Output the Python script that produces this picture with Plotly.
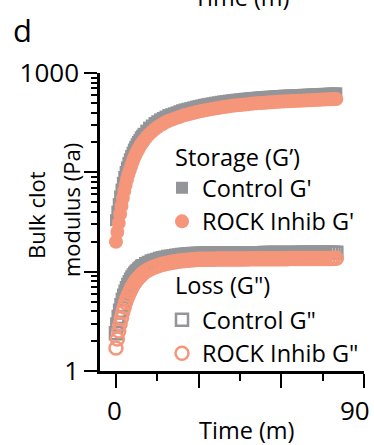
import plotly.graph_objects as go

# Sampling times (minutes)
time_min = [0, 0.5, 1, 1.5, 2, 2.5, 3, 3.5, 4, 4.5, 5, 5.5, 6, 6.5, 7, 7.5, 8, 8.5, 9, 9.5, 10,
            11, 12, 13, 14, 15, 16, 17, 18, 19, 20, 21, 22, 23, 24, 25, 26, 27, 28, 29, 30,
            31, 32, 33, 34, 35, 36, 37, 38, 39, 40, 41, 42, 43, 44, 45, 46, 47, 48, 49, 50,
            51, 52, 53, 54, 55, 56, 57, 58, 59, 60, 61, 62, 63, 64, 65, 66, 67, 68, 69, 70,
            71, 72, 73, 74, 75, 76, 77, 78, 79, 80]

# Storage modulus G' (Pa)
control_storage = [33.0, 40.2, 47.9, 57.2, 67.0, 78.4, 89.7, 100.8, 111.9, 123.8, 135.3, 146.0, 157.9,
                   169.7, 180.6, 191.9, 201.8, 212.0, 224.7, 233.4, 244.4,
                   262.7, 281.7, 296.1, 313.8, 327.2, 341.2, 353.0, 364.6, 377.4, 384.4,
                   393, 402, 412, 422, 430, 437, 443, 451, 459, 465,
                   472, 479, 485, 490, 496, 502, 507, 513, 518, 522,
                   527, 532, 536, 539, 543, 547, 551, 554, 559, 561,
                   564, 568, 570, 572, 576, 578, 580, 584, 586, 588,
                   591, 592, 594, 595, 597, 599, 601, 603, 604, 606,
                   608, 610, 612, 613, 616, 617, 619, 621, 622, 625]
rock_storage = [20.0, 25.1, 30.9, 38.1, 45.9, 55.2, 65.0, 74.7, 84.8, 95.2, 105.7, 115.9, 127.3,
                138.0, 148.0, 158.6, 168.2, 178.2, 188.8, 197.8, 207.1,
                224.5, 240.8, 255.3, 270.5, 283.3, 296.7, 307.0, 318.4, 329.6, 337.2,
                345, 353, 361, 370, 377, 383, 389, 396, 403, 408,
                414, 420, 425, 430, 435, 440, 445, 450, 454, 458,
                462, 467, 470, 473, 476, 480, 483, 486, 490, 492,
                495, 498, 500, 502, 505, 507, 509, 512, 514, 516,
                518, 519, 521, 522, 524, 525, 527, 529, 530, 532,
                533, 535, 537, 538, 540, 541, 543, 545, 546, 548]

# Loss modulus G'' (Pa)
control_loss = [2.40, 2.94, 3.49, 4.04, 4.58, 5.19, 5.73, 6.27, 6.82, 7.35, 7.81, 8.31, 8.73,
                9.17, 9.53, 9.90, 10.16, 10.52, 10.81, 11.19, 11.35,
                11.89, 12.20, 12.63, 12.88, 13.12, 13.43, 13.65, 13.81, 14.01, 14.11,
                14.27, 14.44, 14.58, 14.68, 14.79, 14.89, 14.96, 15.03, 15.09, 15.16,
                15.17, 15.19, 15.20, 15.21, 15.22, 15.23, 15.24, 15.25, 15.26, 15.28,
                15.28, 15.29, 15.30, 15.30, 15.31, 15.32, 15.32, 15.33, 15.34, 15.34,
                15.35, 15.36, 15.36, 15.37, 15.38, 15.38, 15.39, 15.40, 15.40, 15.41,
                15.42, 15.42, 15.43, 15.44, 15.44, 15.45, 15.46, 15.46, 15.47, 15.48,
                15.48, 15.49, 15.50, 15.50, 15.51, 15.52, 15.52, 15.53, 15.54, 15.54]
rock_loss = [1.70, 2.10, 2.53, 2.97, 3.42, 3.93, 4.41, 4.90, 5.37, 5.83, 6.25, 6.70, 7.10,
             7.52, 7.88, 8.25, 8.54, 8.84, 9.16, 9.48, 9.70,
             10.16, 10.52, 10.89, 11.15, 11.41, 11.68, 11.87, 12.06, 12.24, 12.38,
             12.52, 12.67, 12.79, 12.88, 12.97, 13.06, 13.12, 13.18, 13.24, 13.30,
             13.31, 13.33, 13.34, 13.35, 13.36, 13.37, 13.38, 13.39, 13.40, 13.41,
             13.42, 13.42, 13.43, 13.43, 13.44, 13.44, 13.45, 13.45, 13.46, 13.46,
             13.47, 13.47, 13.48, 13.48, 13.49, 13.49, 13.50, 13.50, 13.51, 13.51,
             13.52, 13.52, 13.53, 13.53, 13.54, 13.54, 13.55, 13.55, 13.56, 13.56,
             13.57, 13.57, 13.58, 13.58, 13.59, 13.59, 13.60, 13.60, 13.61, 13.61]

series_names = ["Control G'", "ROCK Inhib G'", 'Control G"', 'ROCK Inhib G"']
group_titles = ["Storage (G\u2019)", 'Loss (G")']
y_tick_vals = [1, 10, 100, 1000]
y_tick_text = ["1", "", "", "1000"]
y_minor_vals = [2, 3, 4, 5, 6, 7, 8, 9, 20, 30, 40, 50, 60, 70, 80, 90,
                200, 300, 400, 500, 600, 700, 800, 900]
x_tick_vals = [0, 30, 60, 90]
x_minor_vals = [15, 45, 75]
x_tick_labels = {0: "0", 90: "90"}

GRAY = "rgb(147,149,152)"
SALMON = "rgb(245,150,122)"
FONT = "Open Sans"

W, H = 374, 445
L, R, T, B = 100, 10, 73, 74
PW, PH = W - L - R, H - T - B


def px(xp):
    return (xp - L) / PW


def py(yp):
    return (H - B - yp) / PH


fig = go.Figure()
fig.add_trace(go.Scatter(
    x=time_min, y=control_storage, mode="markers", name=series_names[0], legend="legend",
    marker=dict(symbol="square", size=12, color=GRAY, line=dict(width=0))))
fig.add_trace(go.Scatter(
    x=time_min, y=rock_storage, mode="markers", name=series_names[1], legend="legend",
    marker=dict(symbol="circle", size=14, color=SALMON, line=dict(width=0))))
fig.add_trace(go.Scatter(
    x=time_min, y=control_loss, mode="markers", name=series_names[2], legend="legend2",
    marker=dict(symbol="square-open", size=12, color=GRAY, line=dict(width=2.5, color=GRAY))))
fig.add_trace(go.Scatter(
    x=time_min, y=rock_loss, mode="markers", name=series_names[3], legend="legend2",
    marker=dict(symbol="circle-open", size=13, color=SALMON, line=dict(width=2.5, color=SALMON))))

annotations = [
    dict(text="d", x=px(22), y=py(30), font=dict(size=31)),
    dict(text="Time (m)", x=px(242), y=py(-3), font=dict(size=23.5)),
    dict(text="Time (m)", x=px(247), y=py(430), font=dict(size=23.5)),
    dict(text="Bulk clot", x=px(36), y=py(215), textangle=-90, font=dict(size=22)),
    dict(text="modulus (Pa)", x=px(71), y=py(210), textangle=-90, font=dict(size=22)),
]
for a in annotations:
    a.update(xanchor="center")
# legend group headings
annotations.append(dict(text=group_titles[0], x=px(173), y=py(157), xanchor="left",
                        font=dict(size=23.5)))
annotations.append(dict(text=group_titles[1], x=px(173), y=py(285), xanchor="left",
                        font=dict(size=23.5)))
for a in annotations:
    a.update(xref="paper", yref="paper", showarrow=False, yanchor="middle")
for tv, tt in x_tick_labels.items():
    annotations.append(dict(text=tt, x=tv, xref="x", y=py(410), yref="paper",
                            xshift=-1 if tv == 0 else -9, showarrow=False,
                            xanchor="center", yanchor="middle", font=dict(size=26)))

legend_style = dict(xanchor="left", yanchor="top", bgcolor="rgba(0,0,0,0)",
                    font=dict(size=23.5, color="black"), itemsizing="trace")

fig.update_layout(
    width=W, height=H, margin=dict(l=L, r=R, t=T, b=B),
    paper_bgcolor="white", plot_bgcolor="white",
    font=dict(family=FONT, color="black"),
    showlegend=True,
    legend=dict(x=px(162), y=py(166), **legend_style),
    legend2=dict(x=px(162), y=py(298), **legend_style),
    annotations=annotations,
    xaxis=dict(range=[-5.8, 90.05], showgrid=False, zeroline=False,
               showline=True, linewidth=2.5, linecolor="black",
               tickmode="array", tickvals=x_tick_vals, showticklabels=False,
               ticks="outside", ticklen=14, tickwidth=2, tickcolor="black",
               minor=dict(tickmode="array", tickvals=x_minor_vals, ticks="outside",
                          ticklen=7, tickwidth=2, tickcolor="black", showgrid=False)),
    yaxis=dict(type="log", range=[0, 3], showgrid=False, zeroline=False,
               showline=True, linewidth=2.5, linecolor="black",
               tickmode="array", tickvals=y_tick_vals, ticktext=y_tick_text,
               ticks="outside", ticklen=13, tickwidth=2, tickcolor="black",
               tickfont=dict(size=26, color="black"),
               minor=dict(tickmode="array", tickvals=y_minor_vals, ticks="outside",
                          ticklen=6, tickwidth=2, tickcolor="black", showgrid=False)),
)

fig.write_html("out.html")
